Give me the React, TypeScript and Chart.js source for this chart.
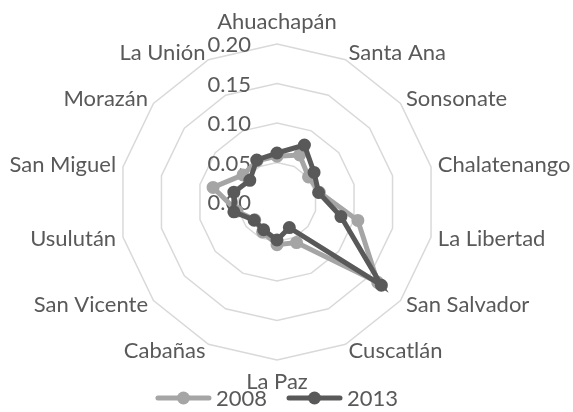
import React, { useEffect, useRef } from "react";
import { Chart, registerables } from "chart.js";

Chart.register(...registerables);

const categories = [
  "Ahuachapán",
  "Santa Ana",
  "Sonsonate",
  "Chalatenango",
  "La Libertad",
  "San Salvador",
  "Cuscatlán",
  "La Paz",
  "Cabañas",
  "San Vicente",
  "Usulután",
  "San Miguel",
  "Morazán",
  "La Unión",
];

const series2008 = [0.058, 0.066, 0.051, 0.055, 0.105, 0.163, 0.057, 0.054, 0.042, 0.036, 0.052, 0.083, 0.055, 0.058];
const series2013 = [0.062, 0.080, 0.060, 0.054, 0.083, 0.169, 0.036, 0.048, 0.039, 0.037, 0.056, 0.056, 0.044, 0.059];

const seriesNames = ["2008", "2013"];
const seriesColors = ["#A5A5A5", "#595959"];

const axisMin = 0;
const axisMax = 0.2;
const axisStep = 0.05;

const TEXT = "#595959";
const FONT = "Lato";
const FONT_SIZE = 22;

const excelText = {
  id: "excelText",
  beforeDatasetsDraw(chart: any) {
    const scale = chart.scales.r;
    const ctx = chart.ctx;
    ctx.save();
    ctx.font = `${FONT_SIZE}px ${FONT}`;
    ctx.fillStyle = TEXT;
    ctx.textAlign = "right";
    ctx.textBaseline = "middle";
    scale.ticks.forEach((t: any) => {
      const y = scale.yCenter - scale.getDistanceFromCenterForValue(t.value);
      ctx.fillText(Number(t.value).toFixed(2), scale.xCenter - 26, y + 1);
    });
    ctx.restore();
  },
  afterDraw(chart: any) {
    const scale = chart.scales.r;
    const ctx = chart.ctx;
    const labels: string[] = chart.data.labels;
    ctx.save();
    ctx.font = `${FONT_SIZE}px ${FONT}`;
    ctx.fillStyle = TEXT;
    ctx.textBaseline = "middle";
    const r = scale.drawingArea;
    labels.forEach((lab, i) => {
      const p = scale.getPointPosition(i, r + 7);
      let a = (scale.getIndexAngle(i) * 180) / Math.PI;
      a = ((a % 360) + 360) % 360;
      let align: CanvasTextAlign = "center";
      let y = p.y;
      if (Math.abs(a) < 0.01 || Math.abs(a - 360) < 0.01) {
        y = p.y - 15;
      } else if (Math.abs(a - 180) < 0.01) {
        y = p.y + 15;
      } else {
        align = a < 180 ? "left" : "right";
      }
      ctx.textAlign = align;
      ctx.fillText(lab, p.x, y);
    });

    // legend
    const lineLen = 55;
    const gapText = 5;
    const gapItems = 20;
    const widths = chart.data.datasets.map((d: any) => ctx.measureText(d.label).width);
    const total = widths.reduce((s: number, w: number) => s + lineLen + gapText + w, 0) + gapItems * (widths.length - 1);
    let x = scale.xCenter - total / 2;
    const ly = 398;
    chart.data.datasets.forEach((d: any, i: number) => {
      ctx.strokeStyle = d.borderColor;
      ctx.lineWidth = 5;
      ctx.lineCap = "round";
      ctx.beginPath();
      ctx.moveTo(x + 2, ly);
      ctx.lineTo(x + lineLen - 2, ly);
      ctx.stroke();
      ctx.fillStyle = d.borderColor;
      ctx.beginPath();
      ctx.arc(x + lineLen / 2, ly, 6.5, 0, Math.PI * 2);
      ctx.fill();
      ctx.fillStyle = TEXT;
      ctx.textAlign = "left";
      ctx.fillText(d.label, x + lineLen + gapText, ly + 1);
      x += lineLen + gapText + widths[i] + gapItems;
    });
    ctx.restore();
  },
};

export default function App() {
  const ref = useRef<HTMLCanvasElement | null>(null);

  useEffect(() => {
    if (!ref.current) return;
    const chart = new Chart(ref.current, {
      type: "radar",
      data: {
        labels: categories,
        datasets: [
          {
            label: seriesNames[0],
            data: series2008,
            borderColor: seriesColors[0],
            backgroundColor: seriesColors[0],
            pointBackgroundColor: seriesColors[0],
            pointBorderColor: seriesColors[0],
            borderWidth: 5,
            pointRadius: 5.5,
            pointBorderWidth: 2,
            fill: false,
            order: 2,
          },
          {
            label: seriesNames[1],
            data: series2013,
            borderColor: seriesColors[1],
            backgroundColor: seriesColors[1],
            pointBackgroundColor: seriesColors[1],
            pointBorderColor: seriesColors[1],
            borderWidth: 5,
            pointRadius: 5.5,
            pointBorderWidth: 2,
            fill: false,
            order: 1,
          },
        ],
      },
      options: {
        animation: false,
        responsive: true,
        maintainAspectRatio: false,
        layout: { padding: { left: 100, right: 119, top: 44, bottom: 52 } },
        plugins: {
          legend: { display: false },
          tooltip: { enabled: false },
        },
        elements: { line: { tension: 0 } },
        scales: {
          r: {
            min: axisMin,
            max: axisMax,
            ticks: { stepSize: axisStep, display: false },
            grid: { color: "#D9D9D9", lineWidth: 1.5, circular: false },
            angleLines: { display: false },
            pointLabels: { display: false },
          },
        },
      },
      plugins: [excelText],
    });
    return () => chart.destroy();
  }, []);

  return (
    <div style={{ position: "fixed", left: 0, top: 0, width: 573, height: 412, background: "#fff" }}>
      <canvas ref={ref} />
    </div>
  );
}
